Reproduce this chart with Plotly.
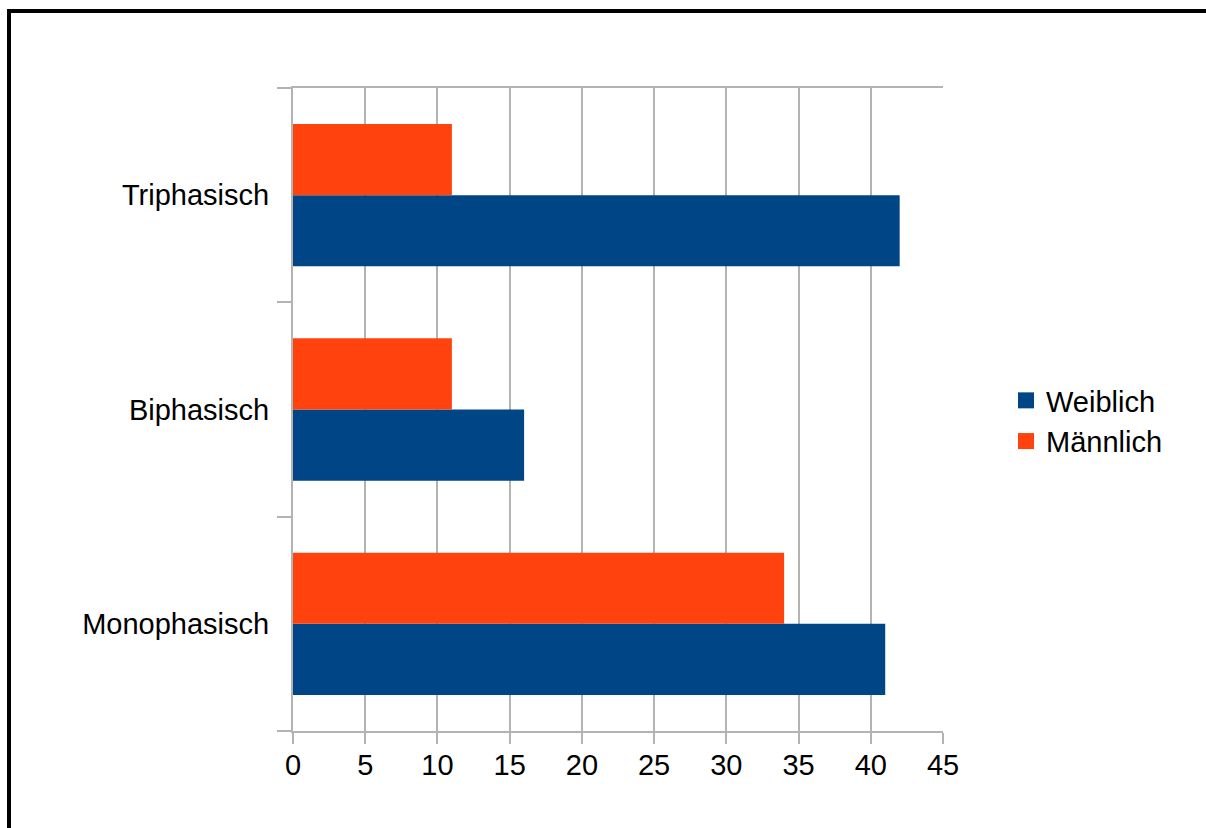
import plotly.graph_objects as go

categories = ["Monophasisch", "Biphasisch", "Triphasisch"]
weiblich = [41, 16, 42]
maennlich = [34, 11, 11]
series_names = ["Weiblich", "Männlich"]
colors = ["#004586", "#ff420e"]

W, H = 1206, 828
L, R, T, B = 293, 943, 88, 731
pw, ph = R - L, B - T

def px_x(x):
    return (x - L) / pw

def px_y(y):
    return (B - y) / ph

font = dict(family="Liberation Sans, Arial, sans-serif", size=29, color="#000000")
grid = "#b3b3b3"

fig = go.Figure()
for name, vals, col in zip(series_names, [weiblich, maennlich], colors):
    fig.add_trace(go.Bar(y=categories, x=vals, orientation="h", name=name,
                         marker=dict(color=col, line=dict(width=0)), showlegend=False))
    fig.add_trace(go.Scatter(x=[None], y=[None], mode="markers", name=name,
                             marker=dict(symbol="square", size=18, color=col)))

fig.update_layout(
    width=W, height=H,
    margin=dict(l=L, r=W - R, t=T, b=H - B, pad=0),
    paper_bgcolor="white", plot_bgcolor="white",
    barmode="group", bargap=0.336, bargroupgap=0,
    font=font,
    showlegend=True,
    legend=dict(x=px_x(1006), y=px_y(421), xanchor="left", yanchor="middle",
                font=font, bgcolor="rgba(0,0,0,0)", borderwidth=0,
                itemclick=False),
    xaxis=dict(range=[0, 45], dtick=5, tick0=0, showgrid=True, gridcolor=grid, gridwidth=2,
               showline=True, linecolor=grid, linewidth=2, mirror=True,
               ticks="outside", ticklen=11, tickcolor=grid, tickwidth=2,
               zeroline=False, tickfont=font, ticklabelstandoff=-4, fixedrange=True),
    yaxis=dict(type="category", categoryorder="array", categoryarray=categories,
               showgrid=False, showline=True, linecolor=grid, linewidth=2,
               ticks="outside", tickson="boundaries", ticklen=14, tickcolor=grid, tickwidth=2,
               tickfont=font, ticklabelstandoff=16, fixedrange=True),
    shapes=[
        dict(type="line", xref="paper", yref="paper", x0=px_x(9), x1=px_x(W + 10),
             y0=px_y(11), y1=px_y(11), line=dict(color="black", width=4)),
        dict(type="line", xref="paper", yref="paper", x0=px_x(9), x1=px_x(9),
             y0=px_y(9), y1=px_y(H + 10), line=dict(color="black", width=4)),
    ],
)

fig.write_html("out.html")
